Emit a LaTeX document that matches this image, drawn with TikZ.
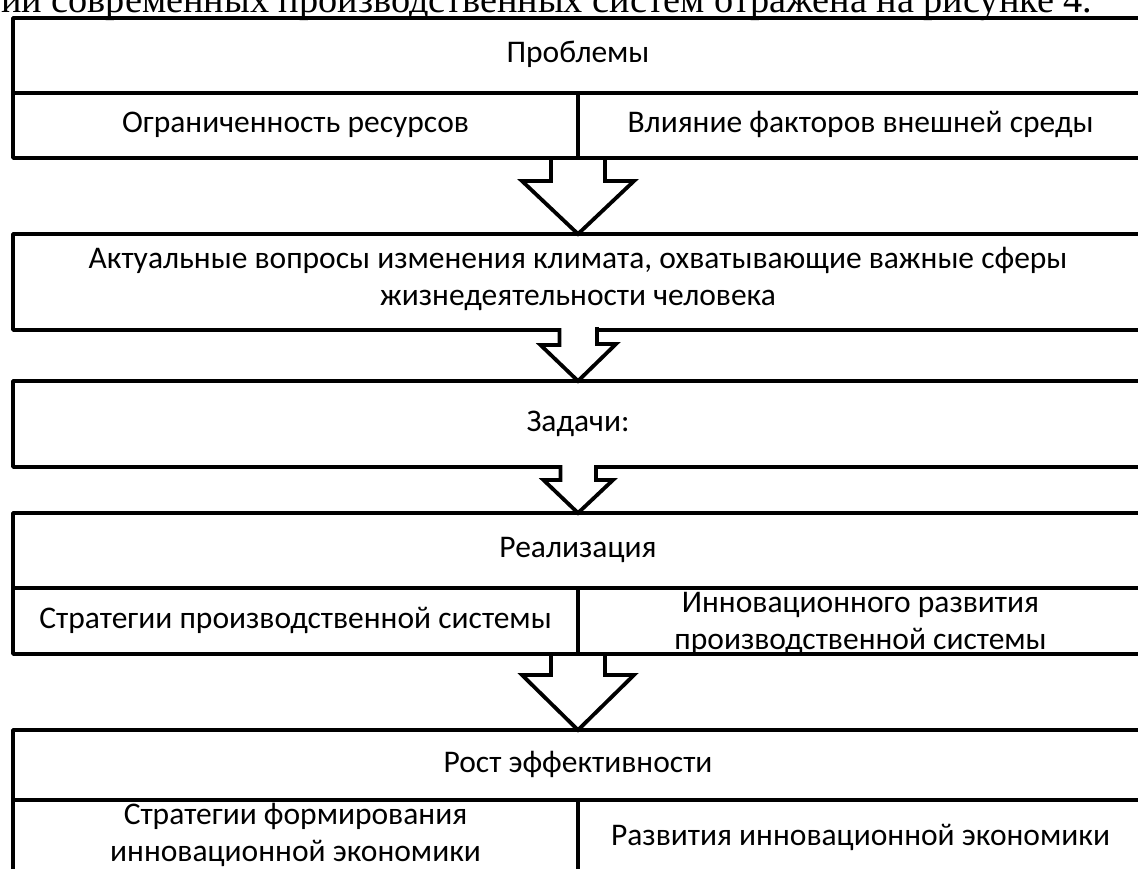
\documentclass[tikz,border=0pt]{standalone}
\usepackage{fontspec}
\setmainfont{Carlito}
\newfontfamily\leadfont{Liberation Serif}
\usetikzlibrary{calc,backgrounds}
\tikzset{box/.style={rectangle, draw=black, line width=3.8pt, line join=round, inner sep=0pt, outer sep=0pt, align=center, font=\fontsize{31.5}{37}\selectfont, execute at begin node=\strut, execute at end node=\strut}, wide/.style={box, minimum width=1130pt}, half/.style={box, minimum width=565pt}, nostrut/.style={execute at begin node={}, execute at end node={}}, blockarrow/.style={draw=black, fill=white, line width=3.8pt}}

\begin{document}
\begin{tikzpicture}[x=1pt, y=-1pt]
\useasboundingbox (0,0) rectangle (1138,869);
\clip (0,0) rectangle (1138,869);

\node(lead) at (1,13) [anchor=base west, inner sep=0pt, font=\leadfont\fontsize{38.3}{40}\selectfont] {ии современных производственных систем отражена на рисунке 4.};

\node(prob) at (578, 55.5) [wide, minimum height=75pt] {Проблемы};
\node(limit) at (295.5, 125.5) [half, minimum height=65pt] {Ограниченность ресурсов};
\node(env) at (860.5, 125.5) [half, minimum height=65pt] {Влияние факторов внешней среды};
\node(actual) at (578, 282) [wide, minimum height=96pt] {Актуальные вопросы изменения климата, охватывающие важные сферы\\жизнедеятельности человека};
\node(tasks) at (578, 424) [wide, minimum height=86pt] {Задачи:};
\node(real) at (578, 550.5) [wide, minimum height=75pt] {Реализация};
\node(strat) at (295.5, 621) [half, minimum height=66pt] {Стратегии производственной системы};
\node(innov) at (860.5, 621) [half, nostrut, minimum height=66pt, text depth=0pt] {Инновационного развития\\производственной системы};
\node(growth) at (578, 765) [wide, minimum height=70pt] {Рост эффективности};
\node(form) at (295.5, 838) [half, minimum height=76pt] {Стратегии формирования\\инновационной экономики};
\node(econ) at (860.5, 838) [half, minimum height=76pt] {Развития инновационной экономики};

\begin{scope}[on background layer]
\draw[blockarrow] ($(limit.south east)+(-27,0)$) -- ++(0,23) -- ++(-29,0) -- (actual.north) -- ++(56,-53) -- ++(-29,0) -- ++(0,-23);
\draw[blockarrow] ($(strat.south east)+(-27,0)$) -- ++(0,21) -- ++(-29,0) -- (growth.north) -- ++(56,-55) -- ++(-29,0) -- ++(0,-21);
\end{scope}
\draw[blockarrow] ($(actual.south)+(-18.5,-2)$) -- ++(0,17) -- ++(-19,0) -- (tasks.north) -- ++(38,-37) -- ++(-19,0) -- ++(0,-17);
\draw[blockarrow] ($(tasks.south)+(-17.5,-2)$) -- ++(0,15) -- ++(-17,0) -- (real.north) -- ++(35,-33) -- ++(-17,0) -- ++(0,-15);

\end{tikzpicture}
\end{document}
